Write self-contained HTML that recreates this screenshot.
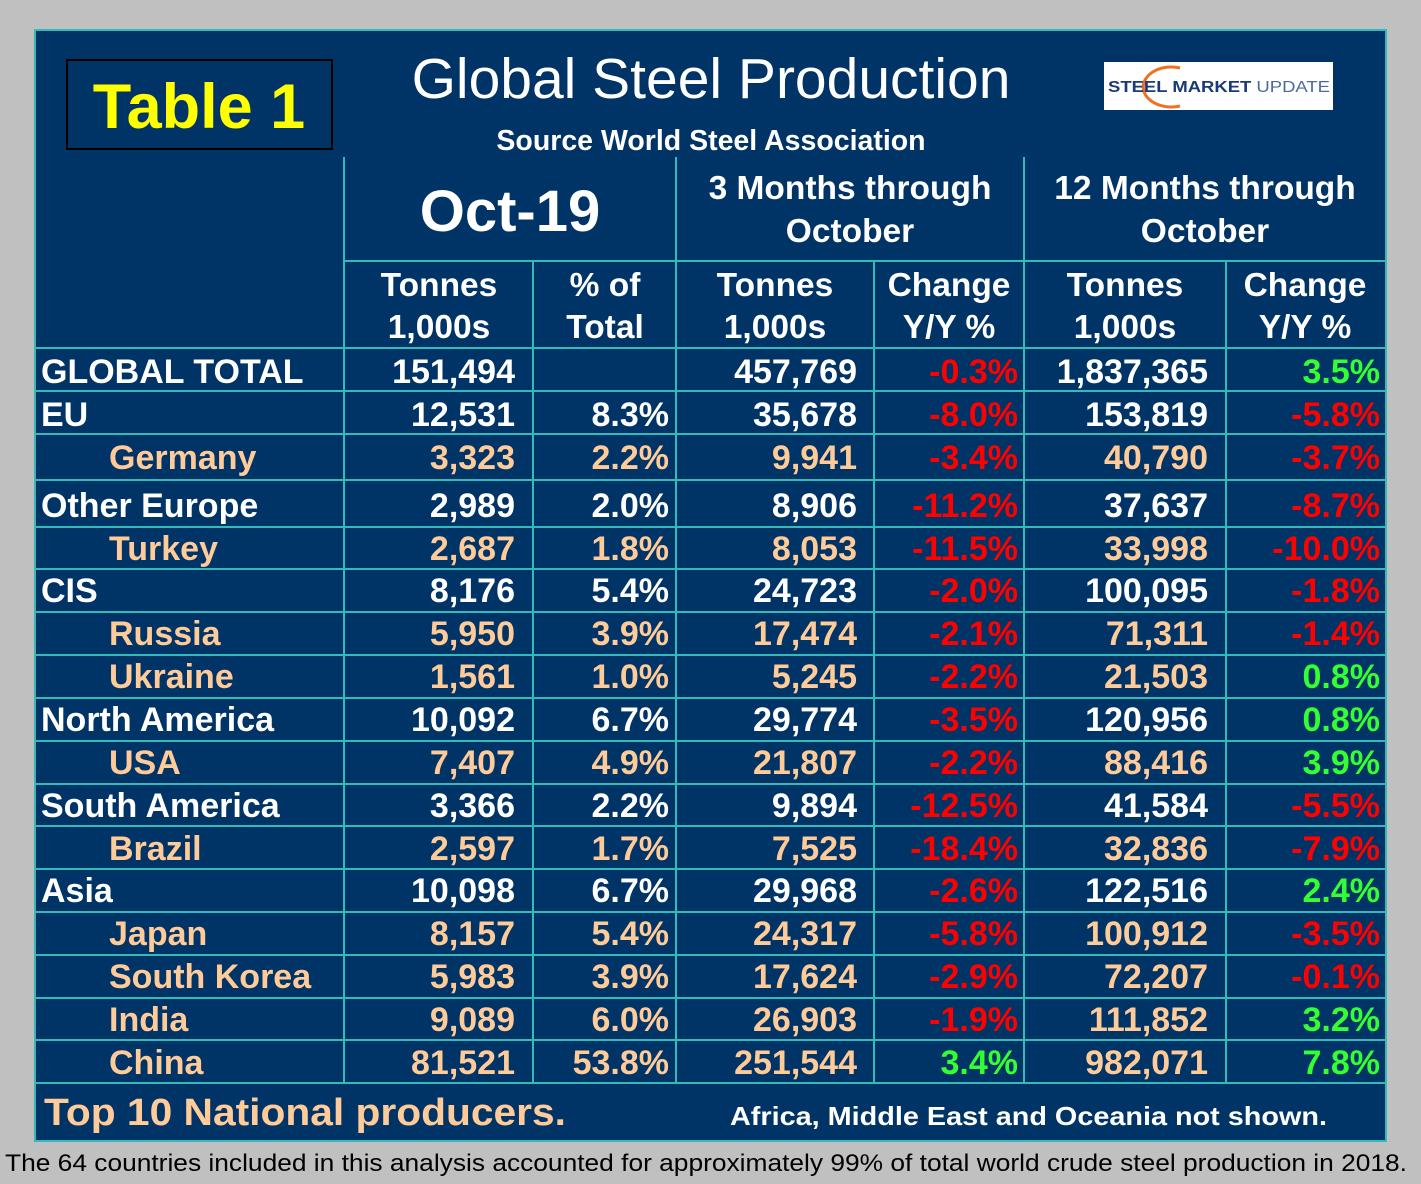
<!DOCTYPE html>
<html><head><meta charset="utf-8"><style>
html,body{margin:0;padding:0;background:#c0c0c0;}
svg{display:block;font-family:"Liberation Sans",Arial,sans-serif;}
</style></head><body>
<svg width="1421" height="1184" viewBox="0 0 1421 1184" xmlns="http://www.w3.org/2000/svg">
<rect x="0" y="0" width="1421" height="1184" fill="#c0c0c0"/>
<rect x="35" y="30" width="1351" height="1111" fill="#003366" stroke="#33bbbb" stroke-width="2"/>
<rect x="67" y="60" width="265" height="89" fill="#003366" stroke="#000" stroke-width="2"/>
<text x="199" y="128" font-size="63" font-weight="bold" fill="#ffff00" text-anchor="middle">Table 1</text>
<text x="711" y="98" font-size="57" fill="#fff" text-anchor="middle">Global Steel Production</text>
<text x="711" y="150" font-size="28.5" font-weight="bold" fill="#fff" text-anchor="middle">Source World Steel Association</text>
<rect x="1104" y="62" width="229" height="48" fill="#fff"/>
<path d="M1180,68 A28,20 0 1,0 1180,106" fill="none" stroke="#f07020" stroke-width="3"/>
<text x="1108" y="92" font-size="16" font-weight="bold" fill="#1a3a7a" textLength="222" lengthAdjust="spacingAndGlyphs">STEEL MARKET <tspan font-weight="normal" fill="#4a6aa0">UPDATE</tspan></text>
<g stroke="#33bbbb" stroke-width="2">
<line x1="344" y1="157" x2="344" y2="1083"/>
<line x1="676" y1="157" x2="676" y2="1083"/>
<line x1="1024" y1="157" x2="1024" y2="1083"/>
<line x1="533" y1="261" x2="533" y2="1083"/>
<line x1="874" y1="261" x2="874" y2="1083"/>
<line x1="1226" y1="261" x2="1226" y2="1083"/>
<line x1="344" y1="261" x2="1386" y2="261"/>
<line x1="35" y1="348" x2="1386" y2="348"/>
<line x1="35" y1="391" x2="1386" y2="391"/>
<line x1="35" y1="434" x2="1386" y2="434"/>
<line x1="35" y1="480" x2="1386" y2="480"/>
<line x1="35" y1="527" x2="1386" y2="527"/>
<line x1="35" y1="569" x2="1386" y2="569"/>
<line x1="35" y1="612" x2="1386" y2="612"/>
<line x1="35" y1="655" x2="1386" y2="655"/>
<line x1="35" y1="698" x2="1386" y2="698"/>
<line x1="35" y1="741" x2="1386" y2="741"/>
<line x1="35" y1="784" x2="1386" y2="784"/>
<line x1="35" y1="826" x2="1386" y2="826"/>
<line x1="35" y1="869" x2="1386" y2="869"/>
<line x1="35" y1="912" x2="1386" y2="912"/>
<line x1="35" y1="955" x2="1386" y2="955"/>
<line x1="35" y1="998" x2="1386" y2="998"/>
<line x1="35" y1="1040" x2="1386" y2="1040"/>
<line x1="35" y1="1083" x2="1386" y2="1083"/>
</g>
<g font-weight="bold" fill="#fff" text-anchor="middle">
<text x="510" y="231" font-size="58">Oct-19</text>
<text x="850" y="199" font-size="33.5">3 Months through</text>
<text x="850" y="242" font-size="33.5">October</text>
<text x="1205" y="199" font-size="33.5">12 Months through</text>
<text x="1205" y="242" font-size="33.5">October</text>
<g font-size="33.5">
<text x="439" y="296">Tonnes</text><text x="439" y="338">1,000s</text>
<text x="605" y="296">% of</text><text x="605" y="338">Total</text>
<text x="775" y="296">Tonnes</text><text x="775" y="338">1,000s</text>
<text x="949" y="296">Change</text><text x="949" y="338">Y/Y %</text>
<text x="1125" y="296">Tonnes</text><text x="1125" y="338">1,000s</text>
<text x="1305" y="296">Change</text><text x="1305" y="338">Y/Y %</text>
</g>
</g>
<g font-size="34" font-weight="bold">
<g fill="#fff">
<text x="41" y="383">GLOBAL TOTAL</text>
<text x="41" y="426">EU</text>
<text x="41" y="517">Other Europe</text>
<text x="41" y="602">CIS</text>
<text x="41" y="731">North America</text>
<text x="41" y="817">South America</text>
<text x="41" y="902">Asia</text>
</g>
<g fill="#ffcc99">
<text x="109" y="469">Germany</text>
<text x="109" y="560">Turkey</text>
<text x="109" y="645">Russia</text>
<text x="109" y="688">Ukraine</text>
<text x="109" y="774">USA</text>
<text x="109" y="860">Brazil</text>
<text x="109" y="945">Japan</text>
<text x="109" y="988">South Korea</text>
<text x="109" y="1031">India</text>
<text x="109" y="1074">China</text>
</g>
<g text-anchor="end">
<text y="383"><tspan x="515" fill="#fff">151,494</tspan><tspan x="857" fill="#fff">457,769</tspan><tspan x="1018" fill="#ff0000">-0.3%</tspan><tspan x="1208" fill="#fff">1,837,365</tspan><tspan x="1380" fill="#33ff33">3.5%</tspan></text>
<text y="426"><tspan x="515" fill="#fff">12,531</tspan><tspan x="669" fill="#fff">8.3%</tspan><tspan x="857" fill="#fff">35,678</tspan><tspan x="1018" fill="#ff0000">-8.0%</tspan><tspan x="1208" fill="#fff">153,819</tspan><tspan x="1380" fill="#ff0000">-5.8%</tspan></text>
<text y="469" fill="#ffcc99"><tspan x="515">3,323</tspan><tspan x="669">2.2%</tspan><tspan x="857">9,941</tspan><tspan x="1018" fill="#ff0000">-3.4%</tspan><tspan x="1208">40,790</tspan><tspan x="1380" fill="#ff0000">-3.7%</tspan></text>
<text y="517" fill="#fff"><tspan x="515">2,989</tspan><tspan x="669">2.0%</tspan><tspan x="857">8,906</tspan><tspan x="1018" fill="#ff0000">-11.2%</tspan><tspan x="1208">37,637</tspan><tspan x="1380" fill="#ff0000">-8.7%</tspan></text>
<text y="560" fill="#ffcc99"><tspan x="515">2,687</tspan><tspan x="669">1.8%</tspan><tspan x="857">8,053</tspan><tspan x="1018" fill="#ff0000">-11.5%</tspan><tspan x="1208">33,998</tspan><tspan x="1380" fill="#ff0000">-10.0%</tspan></text>
<text y="602" fill="#fff"><tspan x="515">8,176</tspan><tspan x="669">5.4%</tspan><tspan x="857">24,723</tspan><tspan x="1018" fill="#ff0000">-2.0%</tspan><tspan x="1208">100,095</tspan><tspan x="1380" fill="#ff0000">-1.8%</tspan></text>
<text y="645" fill="#ffcc99"><tspan x="515">5,950</tspan><tspan x="669">3.9%</tspan><tspan x="857">17,474</tspan><tspan x="1018" fill="#ff0000">-2.1%</tspan><tspan x="1208">71,311</tspan><tspan x="1380" fill="#ff0000">-1.4%</tspan></text>
<text y="688" fill="#ffcc99"><tspan x="515">1,561</tspan><tspan x="669">1.0%</tspan><tspan x="857">5,245</tspan><tspan x="1018" fill="#ff0000">-2.2%</tspan><tspan x="1208">21,503</tspan><tspan x="1380" fill="#33ff33">0.8%</tspan></text>
<text y="731" fill="#fff"><tspan x="515">10,092</tspan><tspan x="669">6.7%</tspan><tspan x="857">29,774</tspan><tspan x="1018" fill="#ff0000">-3.5%</tspan><tspan x="1208">120,956</tspan><tspan x="1380" fill="#33ff33">0.8%</tspan></text>
<text y="774" fill="#ffcc99"><tspan x="515">7,407</tspan><tspan x="669">4.9%</tspan><tspan x="857">21,807</tspan><tspan x="1018" fill="#ff0000">-2.2%</tspan><tspan x="1208">88,416</tspan><tspan x="1380" fill="#33ff33">3.9%</tspan></text>
<text y="817" fill="#fff"><tspan x="515">3,366</tspan><tspan x="669">2.2%</tspan><tspan x="857">9,894</tspan><tspan x="1018" fill="#ff0000">-12.5%</tspan><tspan x="1208">41,584</tspan><tspan x="1380" fill="#ff0000">-5.5%</tspan></text>
<text y="860" fill="#ffcc99"><tspan x="515">2,597</tspan><tspan x="669">1.7%</tspan><tspan x="857">7,525</tspan><tspan x="1018" fill="#ff0000">-18.4%</tspan><tspan x="1208">32,836</tspan><tspan x="1380" fill="#ff0000">-7.9%</tspan></text>
<text y="902" fill="#fff"><tspan x="515">10,098</tspan><tspan x="669">6.7%</tspan><tspan x="857">29,968</tspan><tspan x="1018" fill="#ff0000">-2.6%</tspan><tspan x="1208">122,516</tspan><tspan x="1380" fill="#33ff33">2.4%</tspan></text>
<text y="945" fill="#ffcc99"><tspan x="515">8,157</tspan><tspan x="669">5.4%</tspan><tspan x="857">24,317</tspan><tspan x="1018" fill="#ff0000">-5.8%</tspan><tspan x="1208">100,912</tspan><tspan x="1380" fill="#ff0000">-3.5%</tspan></text>
<text y="988" fill="#ffcc99"><tspan x="515">5,983</tspan><tspan x="669">3.9%</tspan><tspan x="857">17,624</tspan><tspan x="1018" fill="#ff0000">-2.9%</tspan><tspan x="1208">72,207</tspan><tspan x="1380" fill="#ff0000">-0.1%</tspan></text>
<text y="1031" fill="#ffcc99"><tspan x="515">9,089</tspan><tspan x="669">6.0%</tspan><tspan x="857">26,903</tspan><tspan x="1018" fill="#ff0000">-1.9%</tspan><tspan x="1208">111,852</tspan><tspan x="1380" fill="#33ff33">3.2%</tspan></text>
<text y="1074" fill="#ffcc99"><tspan x="515">81,521</tspan><tspan x="669">53.8%</tspan><tspan x="857">251,544</tspan><tspan x="1018" fill="#33ff33">3.4%</tspan><tspan x="1208">982,071</tspan><tspan x="1380" fill="#33ff33">7.8%</tspan></text>
</g>
</g>
<text x="44" y="1125" font-size="38" font-weight="bold" fill="#ffcc99" textLength="522" lengthAdjust="spacingAndGlyphs">Top 10 National producers.</text>
<text x="730" y="1125" font-size="26" font-weight="bold" fill="#fff" textLength="597" lengthAdjust="spacingAndGlyphs">Africa, Middle East and Oceania not shown.</text>
<text x="5" y="1171" font-size="24" fill="#000" textLength="1402" lengthAdjust="spacingAndGlyphs">The 64 countries included in this analysis accounted for approximately 99% of total world crude steel production in 2018.</text>
</svg>
</body></html>
